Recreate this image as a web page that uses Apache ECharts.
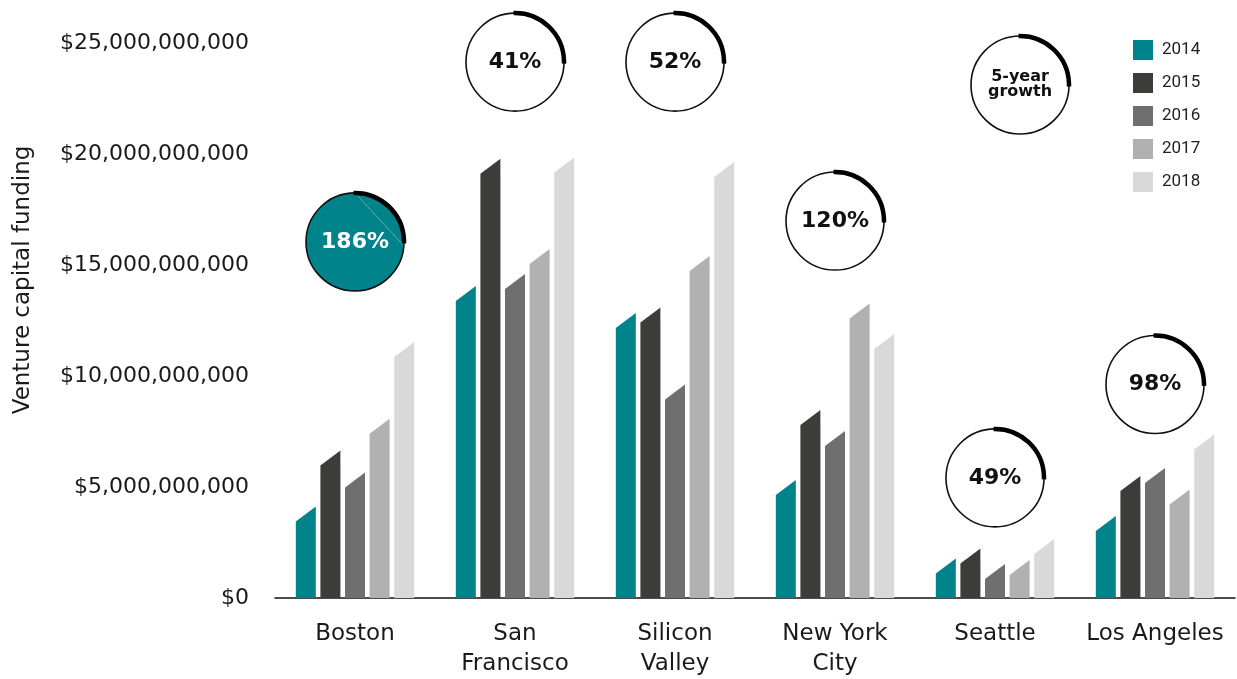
<!DOCTYPE html>
<html>
<head>
<meta charset="utf-8">
<script src="https://cdn.jsdelivr.net/npm/echarts@6/dist/echarts.min.js"></script>
<style>
  html, body { margin: 0; padding: 0; background: #fff; }
  #chart { width: 1237px; height: 679px; }
</style>
</head>
<body>
<div id="chart"></div>
<script>
// venture capital funding per city, in billions of dollars
const cities = ['Boston', 'San\nFrancisco', 'Silicon\nValley', 'New York\nCity', 'Seattle', 'Los Angeles']
const years = ['2014', '2015', '2016', '2017', '2018']
const funding2014 = [3.78, 13.72, 12.5, 4.98, 1.44, 3.36]
const funding2015 = [6.31, 19.45, 12.75, 8.13, 1.89, 5.16]
const funding2016 = [5.32, 14.26, 9.28, 7.18, 1.19, 5.52]
const funding2017 = [7.74, 15.38, 15.07, 12.93, 1.37, 4.55]
const funding2018 = [11.19, 19.5, 19.3, 11.55, 2.32, 7.03]
const growthLabels = ['186%', '41%', '52%', '120%', '49%', '98%']
// where each growth badge sits, in billions on the value axis
const growthAnchor = [16.04, 24.14, 24.14, 16.98, 5.41, 9.62]
const yTicks = [0, 5, 10, 15, 20, 25]

const colors = ['#00838a', '#3c3c3b', '#6f6f6f', '#b1b1b1', '#d9d9d9']
const allFunding = [funding2014, funding2015, funding2016, funding2017, funding2018]

const chart = echarts.init(document.getElementById('chart'))

function barRenderer (idx) {
  return function (params, api) {
    const cat = api.value(0)
    const top = api.coord([cat, api.value(1)])
    const base = api.coord([cat, 0])
    const step = 24.6
    const w = 20
    const slant = 7.5
    const x0 = top[0] + (idx - 2) * step - w / 2
    return {
      type: 'polygon',
      shape: {
        points: [[x0, base[1]], [x0, top[1] + slant], [x0 + w, top[1] - slant], [x0 + w, base[1]]]
      },
      style: { fill: colors[idx] }
    }
  }
}

function badge (cx, cy, r, filled, text) {
  const children = [
    {
      type: 'circle',
      shape: { cx: cx, cy: cy, r: r },
      style: { fill: filled ? '#00838a' : '#fff', stroke: '#111', lineWidth: 1.6 }
    }
  ]
  if (filled) {
    children.push({
      type: 'line',
      shape: { x1: cx, y1: cy - r, x2: cx + r * 0.97, y2: cy + r * 0.05 },
      style: { stroke: 'rgba(255,255,255,0.35)', lineWidth: 1 }
    })
  }
  children.push({
    type: 'arc',
    shape: { cx: cx, cy: cy, r: r, startAngle: -Math.PI / 2 - 0.03, endAngle: 0.03, clockwise: true },
    style: { stroke: '#000', lineWidth: 4.5, fill: null }
  })
  children.push({
    type: 'text',
    style: {
      x: cx, y: cy, text: text, align: 'center', verticalAlign: 'middle',
      fill: filled ? '#fff' : '#111', font: 'bold 22px "DejaVu Sans"'
    }
  })
  return children
}

const barSeries = years.map((y, i) => ({
  name: y,
  type: 'custom',
  itemStyle: { color: colors[i] },
  renderItem: barRenderer(i),
  encode: { x: 0, y: 1 },
  data: allFunding[i].map((v, k) => [k, v * 1e9])
}))

const option = {
  animation: false,
  textStyle: { fontFamily: 'DejaVu Sans' },
  grid: { left: 275, right: 2, top: 43, bottom: 81, outerBoundsMode: 'none' },
  legend: {
    data: years,
    orient: 'vertical',
    left: 1128,
    top: 35,
    icon: 'rect',
    itemWidth: 20,
    itemHeight: 20,
    itemGap: 13,
    textStyle: { fontSize: 17, fontFamily: 'Roboto', color: '#222', padding: [0, 0, 0, 4] }
  },
  xAxis: {
    type: 'category',
    data: cities,
    axisLine: { lineStyle: { color: '#111', width: 1.5 } },
    axisTick: { show: false },
    axisLabel: { interval: 0, fontSize: 23, color: '#1a1a1a', lineHeight: 30, margin: 21 }
  },
  yAxis: {
    type: 'value',
    min: yTicks[0],
    max: yTicks[yTicks.length - 1] * 1e9,
    interval: 5e9,
    axisLine: { show: false },
    axisTick: { show: false },
    splitLine: { show: false },
    axisLabel: {
      fontSize: 22,
      color: '#1a1a1a',
      margin: 26,
      formatter: v => '$' + Math.round(v).toLocaleString('en-US')
    }
  },
  series: barSeries.concat([{
    name: 'growth',
    type: 'custom',
    z: 5,
    encode: { x: 0, y: 1 },
    renderItem: function (params, api) {
      const c = api.coord([api.value(0), api.value(1)])
      return {
        type: 'group',
        children: badge(c[0], c[1], 49, params.dataIndex === 0, growthLabels[params.dataIndex])
      }
    },
    data: growthAnchor.map((v, k) => [k, v * 1e9])
  }]),
  graphic: [
    {
      type: 'text',
      x: 23,
      y: 280,
      rotation: Math.PI / 2,
      style: {
        text: 'Venture capital funding', align: 'center', verticalAlign: 'middle',
        fill: '#1a1a1a', font: '23px "DejaVu Sans"'
      }
    },
    {
      type: 'group',
      children: badge(1020, 85, 49, false, '').concat([{
        type: 'text',
        style: {
          x: 1020, y: 84, text: '5-year\ngrowth', align: 'center', verticalAlign: 'middle',
          fill: '#111', font: 'bold 16px "DejaVu Sans"', lineHeight: 15
        }
      }])
    }
  ]
}

chart.setOption(option)
</script>
</body>
</html>
